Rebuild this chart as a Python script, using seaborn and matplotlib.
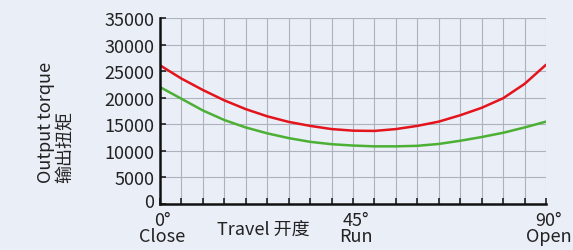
import numpy as np
import pandas as pd
import seaborn as sns
import matplotlib.pyplot as plt
from matplotlib.transforms import ScaledTranslation

# travel angle (deg) and torque curves
angle = [0, 5, 10, 15, 20, 25, 30, 35, 40, 45, 50, 55, 60, 65, 70, 75, 80, 85, 90]
red_torque = [26100, 23600, 21450, 19500, 17850, 16500, 15450, 14700, 14100, 13800,
              13750, 14100, 14700, 15500, 16700, 18100, 19900, 22600, 26200]
green_torque = [22000, 19800, 17600, 15800, 14400, 13300, 12400, 11700, 11250, 11000,
                10850, 10850, 10950, 11300, 11900, 12600, 13400, 14400, 15500]

xtick_pos = [0, 45, 90]
xtick_labels = ['0°\nClose', '45°\nRun', '90°\nOpen']
yticks = [0, 5000, 10000, 15000, 20000, 25000, 30000, 35000]

df = pd.DataFrame({'angle': angle * 2,
                   'torque': red_torque + green_torque,
                   'curve': ['red'] * len(angle) + ['green'] * len(angle)})

bg = '#eaeef7'
sns.set_theme(style='ticks')
plt.rcParams['font.family'] = ['Noto Sans CJK SC', 'DejaVu Sans']
fs = 13

fig = plt.figure(figsize=(5.73, 2.51), dpi=100, facecolor=bg)
ax = fig.add_axes([160 / 573, 1 - 205 / 251, 386 / 573, 186 / 251])
ax.set_facecolor(bg)

sns.lineplot(data=df, x='angle', y='torque', hue='curve',
             palette={'red': '#e3141c', 'green': '#4bb034'},
             linewidth=1.8, legend=False, ax=ax)

ax.set_xlim(0, 90)
ax.set_ylim(0, 35000)
ax.set_xticks(np.arange(0, 91, 5))
ax.set_xticklabels([])
ax.set_yticks(yticks)
ax.set_yticklabels([str(v) for v in yticks], fontsize=fs, color='#222222')
ax.tick_params(axis='both', direction='in', length=4, width=1.2, color='#222222')
ax.tick_params(axis='y', pad=4)
ax.grid(True, color='#aeb2bd', linewidth=0.8)
ax.set_axisbelow(True)

# lift the "0" label a touch so it clears the 0° label
zero_lab = ax.get_yticklabels()[0]
zero_lab.set_transform(zero_lab.get_transform() + ScaledTranslation(0, 4 / 100, fig.dpi_scale_trans))

for side in ['top', 'right']:
    ax.spines[side].set_visible(False)
for side in ['left', 'bottom']:
    ax.spines[side].set_linewidth(1.8)
    ax.spines[side].set_color('#111111')

for pos, lab in zip(xtick_pos, xtick_labels):
    ax.text(pos + 0.6, -1300, lab, ha='center', va='top', fontsize=fs,
            color='#222222', linespacing=0.86)

ax.text(24, -3000, 'Travel 开度', ha='center', va='top', fontsize=fs, color='#222222')

ax.set_xlabel('')
ax.set_ylabel('')
fig.text(46 / 573, 1 - 183 / 251, 'Output torque', rotation=90, ha='center', va='bottom',
         fontsize=fs, color='#222222')
fig.text(66 / 573, 1 - 183 / 251, '输出扭矩', rotation=90, ha='center', va='bottom',
         fontsize=fs, color='#222222')

fig.savefig('out.png', dpi=100, facecolor=bg)
